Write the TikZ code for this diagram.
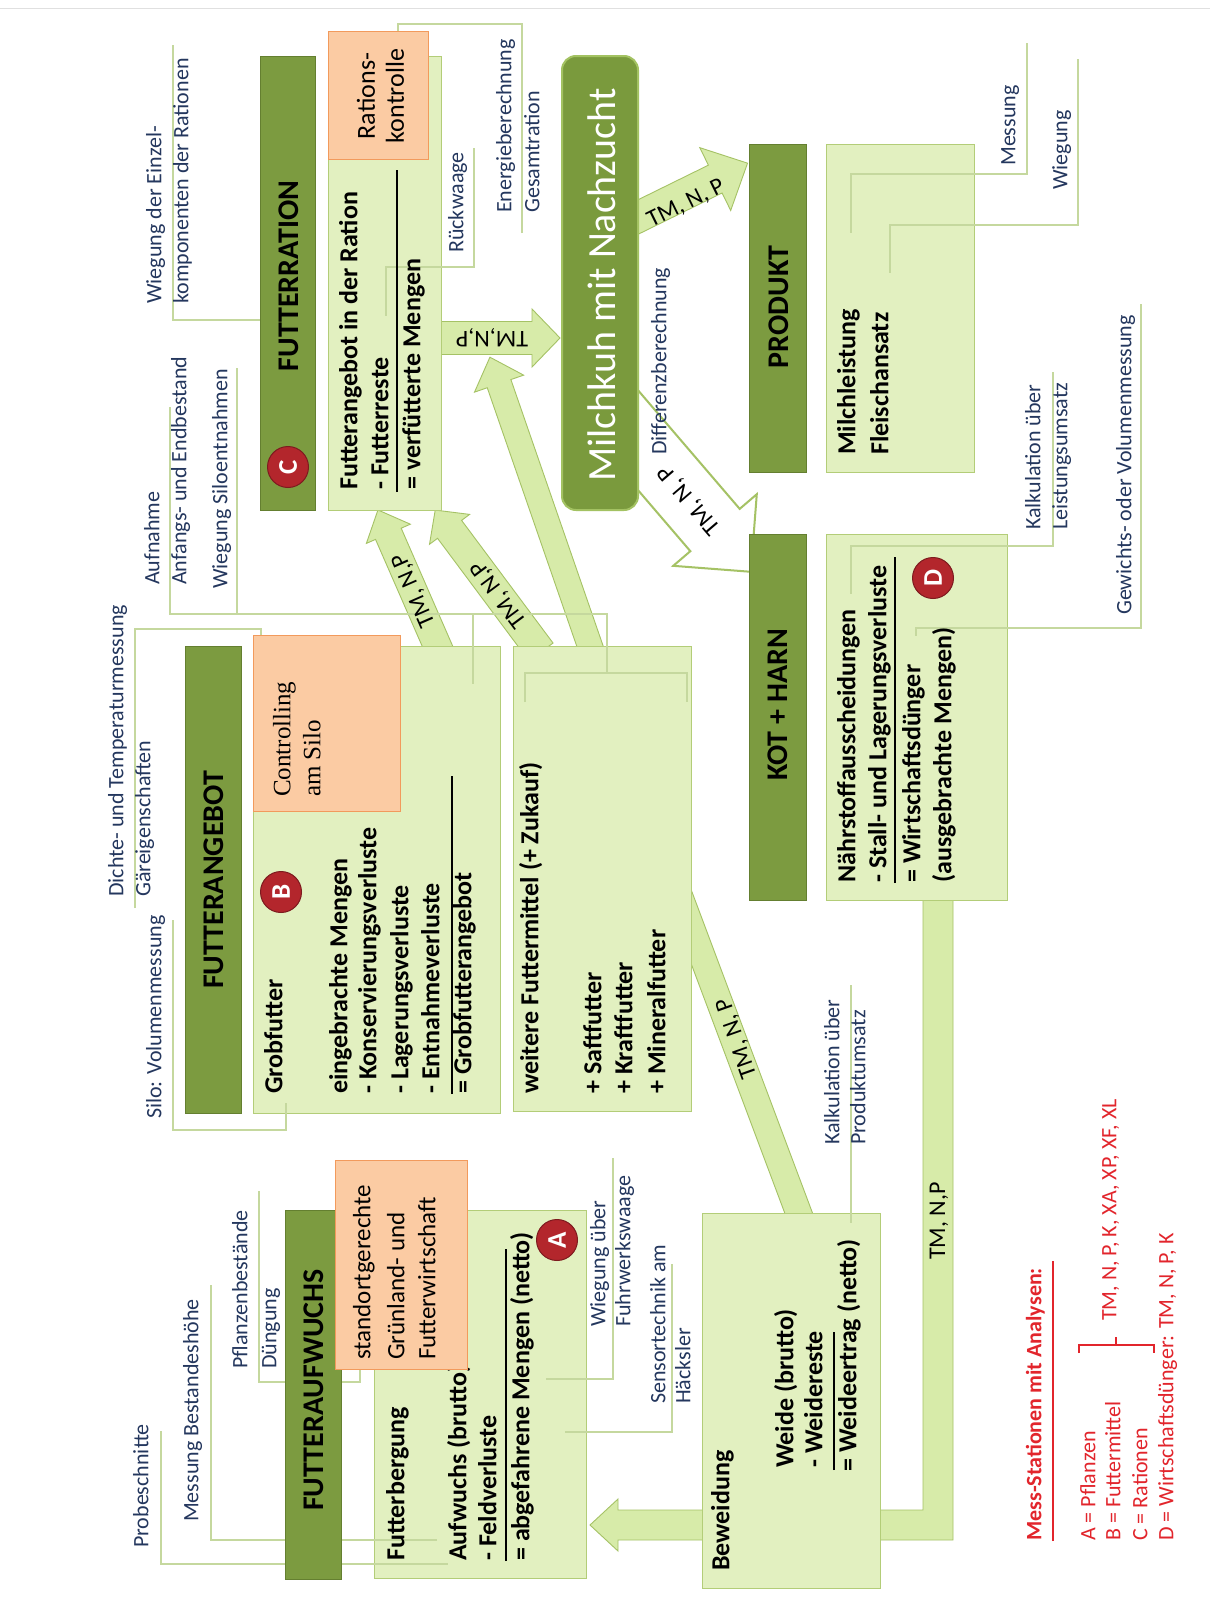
\documentclass[tikz,border=0pt]{standalone}
\usepackage{fontspec}
\setmainfont{Carlito}
\newfontfamily\silofont{Liberation Serif}
\usepackage{xcolor}

\definecolor{bardark}{HTML}{7C9B40}
\definecolor{barline}{HTML}{647F30}
\definecolor{boxlight}{HTML}{E2F0C0}
\definecolor{boxline}{HTML}{B3CD78}
\definecolor{orangefill}{HTML}{FBCBA3}
\definecolor{orangeline}{HTML}{F29A5C}
\definecolor{callout}{HTML}{C5D89E}
\definecolor{notetext}{HTML}{24375E}
\definecolor{arrowfill}{HTML}{D7EBA9}
\definecolor{arrowline}{HTML}{A5C265}
\definecolor{badgered}{HTML}{B3262C}
\definecolor{legendred}{HTML}{E2252C}
\definecolor{milchfill}{HTML}{7A9A3D}
\definecolor{milchline}{HTML}{A3C262}

% block arrow: style, x, y, angle, length, shaft width, head width, head length
\newcommand{\flowarrow}[8]{%
  \begin{scope}[shift={(#2,#3)}, rotate=#4]
    \draw[#1] (0,{-#6/2}) -- ({#5-#8},{-#6/2}) -- ({#5-#8},{-#7/2}) -- (#5,0)
      -- ({#5-#8},{#7/2}) -- ({#5-#8},{#6/2}) -- (0,{#6/2}) -- cycle;
  \end{scope}}

\begin{document}
\begin{tikzpicture}[x=1pt, y=-1pt,
    bar/.style={draw=barline, fill=bardark, line width=0.8pt, inner sep=0},
    lbox/.style={draw=boxline, fill=boxlight, line width=0.8pt, inner sep=0},
    obox/.style={draw=orangeline, fill=orangefill, line width=0.8pt, inner sep=0},
    title/.style={rotate=90, inner sep=0, font=\fontsize{30}{34}\selectfont\bfseries},
    boxtxt/.style={rotate=90, anchor=mid west, inner sep=0, font=\fontsize{26}{30}\selectfont\bfseries},
    otxt/.style={rotate=90, anchor=mid west, inner sep=0, font=\fontsize{25}{30}\selectfont},
    note/.style={rotate=90, anchor=mid west, inner sep=0, text=notetext, font=\fontsize{22}{26}\selectfont},
    guide/.style={draw=callout, line width=1.2pt},
    rule/.style={draw=black, line width=1.3pt},
    flow/.style={draw=arrowline, fill=arrowfill, line width=0.9pt},
    flowwhite/.style={draw=arrowline, fill=white, line width=2pt},
    flowlbl/.style={inner sep=0, font=\fontsize{24}{28}\selectfont},
    badge/.style={circle, fill=badgered, draw=badgered!70!black, line width=1pt, minimum size=41,
      inner sep=0, text=white, rotate=90, font=\fontsize{27}{30}\selectfont\bfseries},
    legend/.style={rotate=90, anchor=mid west, inner sep=0, text=legendred, font=\fontsize{22}{26}\selectfont}]

\useasboundingbox (0,0) rectangle (1210,1609);
\fill[white] (0,0) rectangle (1210,1609);
\draw[black!12, line width=1pt] (0,8) -- (1210,8);

% Flows behind the boxes
\draw[flow] (680,860) -- (656,870) -- (793,1235) -- (817,1225) -- cycle;
\draw[flow] (923,895) -- (923,1510) -- (618,1510) -- (618,1499) -- (590,1525)
  -- (618,1551) -- (618,1540) -- (953,1540) -- (953,895) -- cycle;
\flowarrow{flow}{440}{652}{113.6}{155}{28}{48}{26}
\flowarrow{flow}{541}{652}{126.7}{177}{30}{50}{24}
\flowarrow{flow}{592}{652}{109.1}{312}{25}{52}{28}
\flowarrow{flow}{436}{338}{0}{124}{33}{58}{28}
\flowarrow{flow}{630}{221}{26.2}{131}{31}{70}{36}
\flowarrow{flowwhite}{607}{404}{-49.4}{221}{65}{110}{55}

% Light boxes
\node[lbox, minimum width=113, minimum height=454] (boxC) at (384.5,283) {};
\node[lbox, minimum width=247, minimum height=467] (boxB) at (376.5,879.5) {};
\node[lbox, minimum width=178, minimum height=465] (boxW) at (602,878.5) {};
\node[lbox, minimum width=212, minimum height=368] (boxA) at (480,1394) {};
\node[lbox, minimum width=178, minimum height=375] (boxG) at (791,1400.5) {};
\node[lbox, minimum width=181, minimum height=366] (boxD) at (916.5,717) {};
\node[lbox, minimum width=148, minimum height=328] (boxP) at (900,308) {};

% Callout lines
\draw[guide] (173,45) -- (173,320) -- (262,320);
\draw[guide] (170,407) -- (170,614) -- (607,614) -- (607,673);
\draw[guide] (237,368) -- (237,614);
\draw[guide] (473,614) -- (473,684);
\draw[guide] (525,702) -- (525,673) -- (687,673) -- (687,702);
\draw[guide] (474,148) -- (474,267) -- (386,267) -- (386,316);
\draw[guide] (522,233) -- (522,24) -- (398,24) -- (398,43);
\draw[guide] (135,908) -- (135,629) -- (261,629) -- (261,640);
\draw[guide] (173,920) -- (173,1130) -- (286,1130) -- (286,1103);
\draw[guide] (161,1431) -- (161,1564) -- (448,1564);
\draw[guide] (211,1285) -- (211,1540) -- (437,1540);
\draw[guide] (259,1191) -- (259,1382) -- (360,1382) -- (360,1369);
\draw[guide] (613,1158) -- (613,1379) -- (546,1379);
\draw[guide] (672,1264) -- (672,1432) -- (565,1432);
\draw[guide] (851,985) -- (851,1223);
\draw[guide] (1027,43) -- (1027,174) -- (851,174) -- (851,233);
\draw[guide] (1078,59) -- (1078,225) -- (890,225) -- (890,273);
\draw[guide] (1053,372) -- (1053,546) -- (851,546) -- (851,594);
\draw[guide] (1141,304) -- (1141,628) -- (916,628) -- (916,636);

% Dark bars and the cow
\node[bar, minimum width=55, minimum height=454] (barC) at (287.5,283) {};
\node[bar, minimum width=56, minimum height=467] (barB) at (213,879.5) {};
\node[bar, minimum width=56, minimum height=369] (barA) at (313,1394.5) {};
\node[bar, minimum width=57, minimum height=366] (barD) at (777.5,717) {};
\node[bar, minimum width=57, minimum height=328] (barP) at (777.5,308) {};
\node[draw=milchline, fill=milchfill, line width=2pt, rounded corners=14pt,
  minimum width=76, minimum height=454, inner sep=0] (kuh) at (600,283) {};
\node[rotate=90, inner sep=0, text=white, font=\fontsize{40}{44}\selectfont] (kuhtxt) at (602,285) {Milchkuh mit Nachzucht};

% Box texts
\node[boxtxt] (c1) at (355,490) {Futterangebot in der Ration};
\node[boxtxt] (c2) at (386,490) {- Futterreste};
\node[boxtxt] (c3) at (418,490) {= verfütterte Mengen};
\draw[rule] (397,492) -- (397,170);

\node[boxtxt] (b0) at (280,1094) {Grobfutter};
\node[boxtxt] (b1) at (345,1094) {eingebrachte Mengen};
\node[boxtxt] (b2) at (374,1094) {- Konservierungsverluste};
\node[boxtxt] (b3) at (406,1094) {- Lagerungsverluste};
\node[boxtxt] (b4) at (437,1094) {- Entnahmeverluste};
\node[boxtxt] (b5) at (469,1094) {= Grobfutterangebot};
\draw[rule] (452,1094) -- (452,776);

\node[boxtxt] (w1) at (536,1094) {weitere Futtermittel (+ Zukauf)};
\node[boxtxt] (w2) at (599,1094) {+ Saftfutter};
\node[boxtxt] (w3) at (630,1094) {+ Kraftfutter};
\node[boxtxt] (w4) at (663,1094) {+ Mineralfutter};

\node[boxtxt] (a0) at (402,1561) {Futterbergung};
\node[boxtxt] (a1) at (464,1561) {Aufwuchs (brutto)};
\node[boxtxt] (a2) at (494,1561) {- Feldverluste};
\node[boxtxt] (a3) at (527,1561) {= abgefahrene Mengen (netto)};
\draw[rule] (506,1561) -- (506,1249);

\node[boxtxt] (g0) at (727,1571) {Beweidung};
\node[boxtxt] (g1) at (791,1468) {Weide (brutto)};
\node[boxtxt] (g2) at (820,1468) {- Weidereste};
\node[boxtxt] (g3) at (854,1472) {= Weideertrag (netto)};
\draw[rule] (834,1470) -- (834,1332);

\node[boxtxt] (d1) at (853,883) {Nährstoffausscheidungen};
\node[boxtxt] (d2) at (884,883) {- Stall- und Lagerungsverluste};
\node[boxtxt] (d3) at (918,883) {= Wirtschaftsdünger};
\node[boxtxt] (d4) at (949,883) {(ausgebrachte Mengen)};
\draw[rule] (895,883) -- (895,557);

\node[boxtxt] (p1) at (853,455) {Milchleistung};
\node[boxtxt] (p2) at (886,455) {Fleischansatz};

% Orange boxes
\node[obox, minimum width=100, minimum height=128] (kontrolle) at (378,95) {};
\node[obox, minimum width=147, minimum height=176] (silo) at (326.5,723) {};
\node[obox, minimum width=132, minimum height=209] (standort) at (401,1264.5) {};
\node[rotate=90, inner sep=0, align=center, font=\fontsize{26}{29}\selectfont] (kontrtxt) at (380.5,96) {Rations-\\kontrolle};
\node[otxt, font=\silofont\fontsize{25}{30}\selectfont] (silo1) at (288,797) {Controlling};
\node[otxt, font=\silofont\fontsize{25}{30}\selectfont] (silo2) at (318,797) {am Silo};
\node[otxt] (st1) at (368,1360) {standortgerechte};
\node[otxt] (st2) at (402,1360) {Grünland- und};
\node[otxt] (st3) at (433,1360) {Futterwirtschaft};

% Titles
\node[title] (tC) at (288.5,276) {FUTTERRATION};
\node[title] (tB) at (214,880) {FUTTERANGEBOT};
\node[title] (tA) at (314,1390) {FUTTERAUFWUCHS};
\node[title] (tD) at (778,705) {KOT + HARN};
\node[title] (tP) at (779,307) {PRODUKT};

% Badges
\node[badge] (badgeA) at (557,1240) {A};
\node[badge] (badgeB) at (281,892) {B};
\node[badge] (badgeC) at (288,467) {C};
\node[badge] (badgeD) at (933,578) {D};

% Flow labels
\node[flowlbl, rotate=113.6] (lbl1) at (414,590) {TM, N,P};
\node[flowlbl, rotate=126.7] (lbl2) at (499,594) {TM, N,P};
\node[flowlbl, rotate=180] (lbl3) at (492,338) {TM,N,P};
\node[flowlbl, rotate=26.2] (lbl4) at (686,204) {TM, N, P};
\node[flowlbl, rotate=130.6] (lbl5) at (690,500) {TM, N, P};
\node[flowlbl, rotate=109.5] (lbl6) at (737,1038) {TM, N, P};
\node[flowlbl, rotate=90] (lbl7) at (939,1221) {TM, N,P};

% Callout texts
\node[note] (n1) at (159,304) {Wiegung der Einzel-};
\node[note] (n2) at (186,304) {komponenten der Rationen};
\node[note] (n3) at (157,585) {Aufnahme};
\node[note] (n4) at (184,585) {Anfangs- und Endbestand};
\node[note] (n5) at (225,589) {Wiegung Siloentnahmen};
\node[note] (n6) at (461,253) {Rückwaage};
\node[note] (n7) at (509,213) {Energieberechnung};
\node[note] (n8) at (537,213) {Gesamtration};
\node[note] (n9) at (121,897) {Dichte- und Temperaturmessung};
\node[note] (n10) at (148,897) {Gäreigenschaften};
\node[note] (n11) at (159,1119) {Silo: Volumenmessung};
\node[note] (n12) at (146,1548) {Probeschnitte};
\node[note] (n13) at (196,1522) {Messung Bestandeshöhe};
\node[note] (n14) at (245,1369) {Pflanzenbestände};
\node[note] (n15) at (274,1369) {Düngung};
\node[note] (n16) at (603,1327) {Wiegung über};
\node[note] (n17) at (628,1327) {Fuhrwerkswaage};
\node[note] (n18) at (663,1404) {Sensortechnik am};
\node[note] (n19) at (688,1404) {Häcksler};
\node[note] (n20) at (837,1145) {Kalkulation über};
\node[note] (n21) at (863,1145) {Produktumsatz};
\node[note] (n22) at (1013,166) {Messung};
\node[note] (n23) at (1065,190) {Wiegung};
\node[note] (n24) at (1038,530) {Kalkulation über};
\node[note] (n25) at (1065,530) {Leistungsumsatz};
\node[note] (n26) at (1129,615) {Gewichts- oder Volumenmessung};
\node[note] (n27) at (664,455) {Differenzberechnung};

% Legend
\node[legend, font=\fontsize{22}{26}\selectfont\bfseries] (leg0) at (1039,1541) {Mess-Stationen mit Analysen:};
\draw[legendred, line width=1.4pt] (1053,1541) -- (1053,1261);
\node[legend] (leg1) at (1093,1541) {A = Pflanzen};
\node[legend] (leg2) at (1118,1541) {B = Futtermittel};
\node[legend] (leg3) at (1145,1541) {C = Rationen};
\node[legend] (leg4) at (1171,1541) {D = Wirtschaftsdünger: TM, N, P, K};
\draw[legendred, line width=1.1pt] (1079,1353) -- (1079,1345) -- (1154,1345) -- (1154,1353);
\draw[legendred, line width=1.1pt] (1116,1345) -- (1116,1337);
\node[legend] (leg5) at (1114,1321) {TM, N, P, K, XA, XP, XF, XL};

\end{tikzpicture}
\end{document}
